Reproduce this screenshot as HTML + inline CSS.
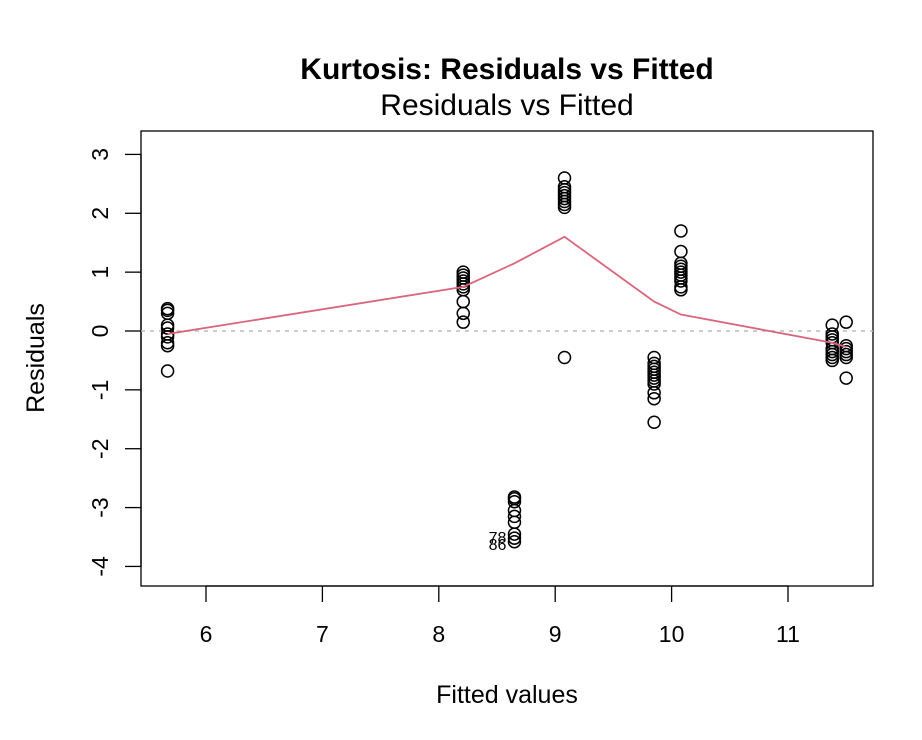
<!DOCTYPE html>
<html><head><meta charset="utf-8"><style>
body{margin:0;background:#fff;}
svg{display:block;font-family:"Liberation Sans",Arial,sans-serif;}
</style></head><body>
<svg id="chart" width="922" height="740" viewBox="0 0 922 740">
<text x="507" y="79" text-anchor="middle" font-size="30" font-weight="bold">Kurtosis: Residuals vs Fitted</text>
<text x="507" y="115" text-anchor="middle" font-size="30">Residuals vs Fitted</text>
<rect x="141" y="131" width="732" height="455" fill="none" stroke="#000" stroke-width="1.3"/>
<text x="507" y="703" text-anchor="middle" font-size="25">Fitted values</text>
<text transform="translate(44,358) rotate(-90)" text-anchor="middle" font-size="25">Residuals</text>
<g id="axes"></g><g id="marks"></g>
</svg>
<script>
const xTicks=[6,7,8,9,10,11];
const yTicks=[3,2,1,0,-1,-2,-3,-4];
const clusterX=[5.67,8.21,9.08,8.65,9.85,10.08,11.38,11.5];
const clusterResiduals=[
[0.38,0.35,0.3,0.1,0.05,-0.05,-0.1,-0.2,-0.25,-0.68],
[1.0,0.95,0.9,0.85,0.8,0.75,0.7,0.5,0.3,0.15],
[2.6,2.45,2.4,2.35,2.3,2.25,2.2,2.15,2.1,-0.45],
[-2.82,-2.85,-2.9,-3.05,-3.15,-3.25,-3.45,-3.52,-3.58],
[-0.45,-0.55,-0.6,-0.65,-0.7,-0.75,-0.8,-0.85,-0.9,-1.05,-1.15,-1.55],
[1.7,1.35,1.15,1.1,1.05,1.0,0.95,0.9,0.85,0.75,0.7],
[0.1,-0.05,-0.1,-0.15,-0.2,-0.3,-0.35,-0.4,-0.45,-0.5],
[0.15,-0.25,-0.3,-0.35,-0.4,-0.45,-0.8]];
const smoothX=[5.67,8.21,8.65,9.08,9.85,10.08,11.38,11.5];
const smoothY=[-0.05,0.75,1.15,1.6,0.5,0.28,-0.2,-0.27];
const pointLabels=["78","86"];
const pointLabelX=[8.65,8.65];
const pointLabelY=[-3.5,-3.62];

const NS="http://www.w3.org/2000/svg";
const sx=v=>206+116.4*(v-6);
const sy=v=>331-58.86*v;
const axes=document.getElementById('axes'),marks=document.getElementById('marks');
function mk(tag,attrs,parent){const e=document.createElementNS(NS,tag);for(const k in attrs)e.setAttribute(k,attrs[k]);parent.appendChild(e);return e;}
mk('line',{x1:206,x2:788,y1:586,y2:586,stroke:'#000','stroke-width':1.3},axes);
xTicks.forEach(t=>{
 const l=mk('line',{x1:sx(t),x2:sx(t),y1:586,y2:602,stroke:'#000','stroke-width':1.3},axes);
 
 
 const tx=mk('text',{x:sx(t),y:642,'text-anchor':'middle','font-size':23},axes);tx.textContent=t;
 
 
});
mk('line',{x1:141,x2:141,y1:sy(3),y2:sy(-4),stroke:'#000','stroke-width':1.3},axes);
yTicks.forEach(t=>{
 const l=mk('line',{x1:125,x2:141,y1:sy(t),y2:sy(t),stroke:'#000','stroke-width':1.3},axes);
 
 
 const tx=mk('text',{transform:`translate(108,${sy(t)}) rotate(-90)`,'text-anchor':'middle','font-size':23},axes);tx.textContent=t;
 
 
});
const z=mk('line',{x1:141,x2:873,y1:sy(0),y2:sy(0),stroke:'#bbb','stroke-width':1.5,'stroke-dasharray':'4,5'},marks);


clusterX.forEach((x,i)=>clusterResiduals[i].forEach(r=>{
 const c=mk('circle',{cx:sx(x),cy:sy(r),r:6,fill:'none',stroke:'#000','stroke-width':1.5},marks);
 
 
}));
const p=mk('polyline',{points:smoothX.map((x,i)=>sx(x)+','+sy(smoothY[i])).join(' '),fill:'none',stroke:'#d9667a','stroke-width':1.8},marks);


pointLabels.forEach((s,i)=>{
 const t=mk('text',{x:sx(pointLabelX[i])-8,y:sy(pointLabelY[i])+6,'text-anchor':'end','font-size':16},marks);t.textContent=s;
 
 
});
</script>
</body></html>
